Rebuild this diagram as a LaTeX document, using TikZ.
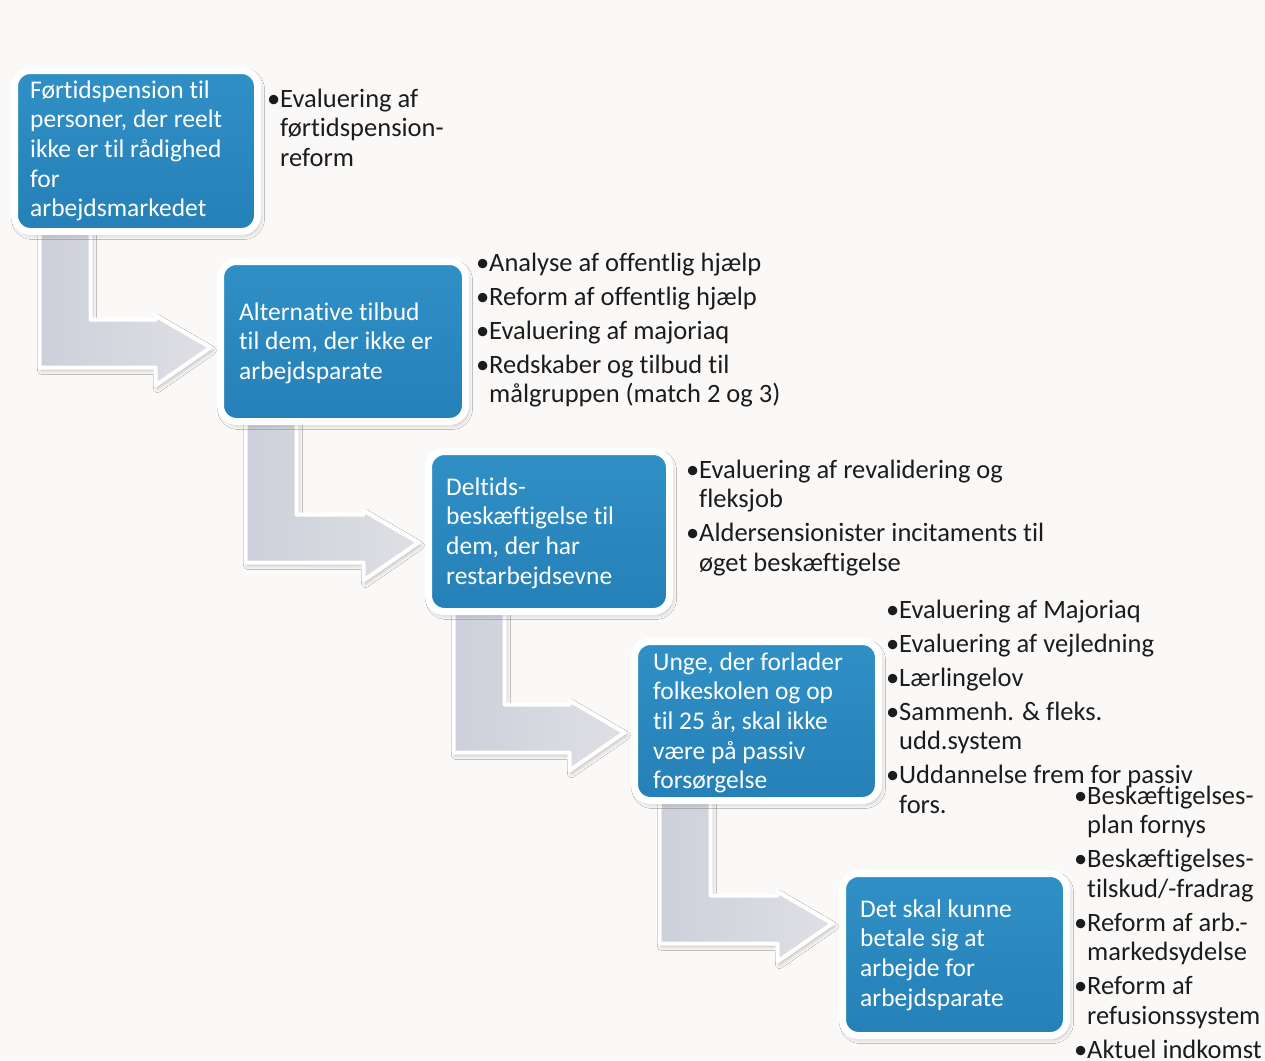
\documentclass[tikz,border=0pt]{standalone}
\usepackage{fontspec}
\setmainfont{Carlito}[Ligatures=NoCommon]
\usetikzlibrary{shadows.blur}
\definecolor{boxtop}{HTML}{3090C6}
\definecolor{boxbot}{HTML}{2580B7}
\definecolor{arrowdark}{HTML}{CDD0DA}
\definecolor{arrowlight}{HTML}{DFE0E5}
\definecolor{listink}{HTML}{1C1C1C}
\definecolor{paper}{HTML}{FBF9F8}
\newcommand{\Li}[1]{\hbox{\makebox[13pt][l]{•}#1}}
\newcommand{\Lc}[1]{\hbox{\hspace*{13pt}#1}}
\newcommand{\Gap}{\vskip4.5pt}
\newcommand{\Bl}[1]{\hbox{#1}}
\newcommand{\steparrow}[3]{%
  \path[steparrowstyle] let \p1=(#1.south west), \p2=(#2.west) in
    (\x1+25pt,\y1+8pt) -- (\x1+25pt,-#3pt-48pt) -- (\x2-65pt,-#3pt-48pt)
    -- (\x2-65pt,-#3pt-66pt) -- (\x2-10pt,-#3pt-28pt) -- (\x2-65pt,-#3pt+4pt)
    -- (\x2-65pt,-#3pt) -- (\x1+76pt,-#3pt) -- (\x1+76pt,\y1+8pt) -- cycle;}
\begin{document}
\begin{tikzpicture}[x=1pt,y=-1pt,
  boxnode/.style={rounded corners=16pt, draw=white, line width=7pt,
    top color=boxtop, bottom color=boxbot, inner sep=0pt, outer sep=0pt,
    blur shadow={shadow xshift=2pt, shadow yshift=-3pt, shadow blur radius=5pt, shadow opacity=30}},
  boxtext/.style={anchor=base west, inner sep=0pt, text=white,
    font=\fontsize{25.5}{29.7}\selectfont},
  listtext/.style={anchor=base west, inner sep=0pt, text=listink,
    font=\fontsize{26.5}{29.5}\selectfont},
  steparrowstyle/.style={draw=white, line width=4pt, line join=round,
    left color=arrowdark, right color=arrowlight,
    blur shadow={shadow xshift=2pt, shadow yshift=-3pt, shadow blur radius=4pt, shadow opacity=25}}]

\fill[paper] (0,0) rectangle (1265,1060);
\useasboundingbox (0,0) rectangle (1265,1060);

% box centres
\path (136,151) coordinate (c1) (343,341.5) coordinate (c2) (549,531.5) coordinate (c3)
      (756.5,721) coordinate (c4) (954.5,954.5) coordinate (c5);

% invisible placeholders used to place the arrows
\node[inner sep=0pt, outer sep=0pt, minimum width=243pt, minimum height=161pt] (p1) at (c1) {};
\node[inner sep=0pt, outer sep=0pt, minimum width=245pt, minimum height=160pt] (p2) at (c2) {};
\node[inner sep=0pt, outer sep=0pt, minimum width=241pt, minimum height=160pt] (p3) at (c3) {};
\node[inner sep=0pt, outer sep=0pt, minimum width=244pt, minimum height=159pt] (p4) at (c4) {};
\node[inner sep=0pt, outer sep=0pt, minimum width=224pt, minimum height=162pt] (p5) at (c5) {};

% bent step arrows
\steparrow{p1}{p2}{319.5}
\steparrow{p2}{p3}{514.5}
\steparrow{p3}{p4}{704.5}
\steparrow{p4}{p5}{895.5}

% blue boxes
\node[boxnode, minimum width=243pt, minimum height=161pt] (b1) at (c1) {};
\node[boxnode, minimum width=245pt, minimum height=160pt] (b2) at (c2) {};
\node[boxnode, minimum width=241pt, minimum height=160pt] (b3) at (c3) {};
\node[boxnode, minimum width=244pt, minimum height=159pt] (b4) at (c4) {};
\node[boxnode, minimum width=224pt, minimum height=162pt] (b5) at (c5) {};

% box texts
\node[boxtext] (t1) at (30,98) {\vtop{\Bl{Førtidspension til}\Bl{personer, der reelt}\Bl{ikke er til rådighed}\Bl{for}\Bl{arbejdsmarkedet}}};
\node[boxtext] (t2) at (239,320) {\vtop{\Bl{Alternative tilbud}\Bl{til dem, der ikke er}\Bl{arbejdsparate}}};
\node[boxtext] (t3) at (446,495) {\vtop{\Bl{Deltids-}\Bl{beskæftigelse til}\Bl{dem, der har}\Bl{restarbejdsevne}}};
\node[boxtext] (t4) at (653,670) {\vtop{\Bl{Unge, der forlader}\Bl{folkeskolen og op}\Bl{til 25 år, skal ikke}\Bl{være på passiv}\Bl{forsørgelse}}};
\node[boxtext] (t5) at (860,917) {\vtop{\Bl{Det skal kunne}\Bl{betale sig at}\Bl{arbejde for}\Bl{arbejdsparate}}};

% bullet lists
\node[listtext] (l1) at (267,107) {\vtop{\Li{Evaluering af}\Lc{førtidspension-}\Lc{reform}}};
\node[listtext] (l2) at (476,271) {\vtop{\Li{Analyse af offentlig hjælp}\Gap\Li{Reform af offentlig hjælp}\Gap\Li{Evaluering af majoriaq}\Gap\Li{Redskaber og tilbud til}\Lc{målgruppen (match 2 og 3)}}};
\node[listtext] (l3) at (686,478) {\vtop{\Li{Evaluering af revalidering og}\Lc{fleksjob}\Gap\Li{Aldersensionister incitaments til}\Lc{øget beskæftigelse}}};
\node[listtext] (l4) at (886,618) {\vtop{\Li{Evaluering af Majoriaq}\Gap\Li{Evaluering af vejledning}\Gap\Li{Lærlingelov}\Gap\Li{Sammenh. \& fleks.}\Lc{udd.system}\Gap\Li{Uddannelse frem for passiv}\Lc{fors.}}};
\node[listtext] (l5) at (1074,804) {\vtop{\Li{Beskæftigelses-}\Lc{plan fornys}\Gap\Li{Beskæftigelses-}\Lc{tilskud/-fradrag}\Gap\Li{Reform af arb.-}\Lc{markedsydelse}\Gap\Li{Reform af}\Lc{refusionssystem}\Gap\Li{Aktuel indkomst}}};
\end{tikzpicture}
\end{document}
